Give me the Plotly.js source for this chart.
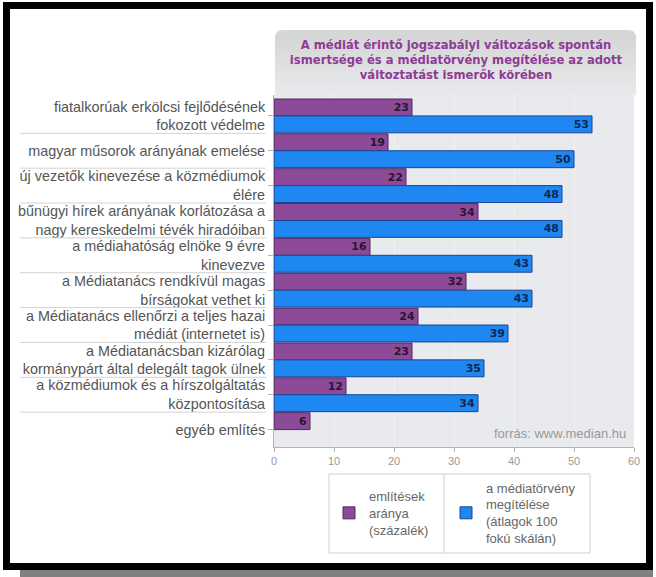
<!DOCTYPE html>
<html>
<head>
<meta charset="utf-8">
<script src="https://cdn.plot.ly/plotly-3.0.1.min.js"></script>
<style>
  html, body { margin: 0; padding: 0; background: #ffffff; }
  #wrap { position: relative; width: 656px; height: 577px; overflow: hidden; }
  #frame { position: absolute; left: 3px; top: 2px; width: 650px; height: 568px; box-sizing: border-box; border: 7px solid #000; background: #fff; }
  #shadow { position: absolute; left: 20px; top: 570px; width: 633px; height: 7px; background: #808080; }
  #chart { position: absolute; left: 0; top: 0; width: 656px; height: 577px; }
</style>
</head>
<body>
<div id="wrap">
  <div id="shadow"></div>
  <div id="frame"></div>
  <div id="chart"></div>
</div>
<script>
// ---- data ----
const categories = [
  'fiatalkorúak erkölcsi fejlődésének<br>fokozott védelme',
  'magyar műsorok arányának emelése',
  'új vezetők kinevezése a közmédiumok<br>élére',
  'bűnügyi hírek arányának korlátozása a<br>nagy kereskedelmi tévék hiradóiban',
  'a médiahatóság elnöke 9 évre<br>kinevezve',
  'a Médiatanács rendkívül magas<br>bírságokat vethet ki',
  'a Médiatanács ellenőrzi a teljes hazai<br>médiát (internetet is)',
  'a Médiatanácsban kizárólag<br>kormánypárt által delegált tagok ülnek',
  'a közmédiumok és a hírszolgáltatás<br>központosítása',
  'egyéb említés'
];
const mentionShare = [23, 19, 22, 34, 16, 32, 24, 23, 12, 6];
const lawRating = [53, 50, 48, 48, 43, 43, 39, 35, 34, null];
const seriesNames = [
  'említések<br>aránya<br>(százalék)',
  'a médiatörvény<br>megítélése<br>(átlagok 100<br>fokú skálán)'
];
const xTicks = [0, 10, 20, 30, 40, 50, 60];
const titleText = 'A médiát érintő jogszabályi változások spontán<br>ismertsége és a médiatörvény megítélése az adott<br>változtatást ismerők körében';
const sourceText = 'forrás: www.median.hu';

// ---- geometry helpers (pixel -> paper) ----
const L = 274, R = 634, T = 95, B = 447;
const px = q => (q - L) / (R - L);
const py = p => (B - p) / (B - T);

const traces = [
  {
    type: 'bar', orientation: 'h', name: seriesNames[0], legend: 'legend',
    y: categories, x: mentionShare,
    marker: { color: '#8d4a98', line: { color: '#55285f', width: 1 } },
    texttemplate: '%{x}', textposition: 'inside', insidetextanchor: 'end',
    textangle: 0, constraintext: 'none',
    textfont: { family: 'DejaVu Sans', size: 11, color: '#2b1630', weight: 'bold' },
    hoverinfo: 'x'
  },
  {
    type: 'bar', orientation: 'h', name: seriesNames[1], legend: 'legend2',
    y: categories, x: lawRating,
    marker: { color: '#1f87f2', line: { color: '#1a4590', width: 1 } },
    texttemplate: '%{x}', textposition: 'inside', insidetextanchor: 'end',
    textangle: 0, constraintext: 'none',
    textfont: { family: 'DejaVu Sans', size: 11, color: '#0d2750', weight: 'bold' },
    hoverinfo: 'x'
  }
];

// title box (rounded top + vertical gradient strips)
const shapes = [];
const bx0 = px(275), bx1 = px(636), by0 = py(95), by1 = py(30);
const rx = 8 / (R - L), ry = 8 / (B - T);
shapes.push({
  type: 'path', xref: 'paper', yref: 'paper', layer: 'below',
  path: `M${bx0},${by0} L${bx0},${by1 - ry} Q${bx0},${by1} ${bx0 + rx},${by1} L${bx1 - rx},${by1} Q${bx1},${by1} ${bx1},${by1 - ry} L${bx1},${by0} Z`,
  fillcolor: '#d6d6d6', line: { width: 0 }
});
const c0 = [214, 214, 214], c1 = [232, 234, 237];
const nStrips = 12;
for (let i = 0; i < nStrips; i++) {
  const top = 38 + i * (95 - 38) / nStrips;
  const bot = 38 + (i + 1) * (95 - 38) / nStrips + 0.6;
  const t = (i + 0.5) / nStrips;
  const c = c0.map((v, k) => Math.round(v + (c1[k] - v) * t));
  shapes.push({
    type: 'rect', xref: 'paper', yref: 'paper', layer: 'below',
    x0: bx0, x1: bx1, y0: py(Math.min(bot, 95)), y1: py(top),
    fillcolor: `rgb(${c.join(',')})`, line: { width: 0 }
  });
}
// separators between category labels
for (let i = 0; i < categories.length - 1; i++) {
  shapes.push({
    type: 'line', xref: 'paper', yref: 'y',
    x0: px(20), x1: px(266), y0: i + 0.5, y1: i + 0.5,
    line: { color: '#d2d2d2', width: 1 }
  });
}
// legend box + divider
shapes.push({
  type: 'rect', xref: 'paper', yref: 'paper',
  x0: px(329), x1: px(590), y0: py(553), y1: py(474),
  fillcolor: '#ffffff', line: { color: '#cfcfcf', width: 1 }
});
shapes.push({
  type: 'line', xref: 'paper', yref: 'paper',
  x0: px(444), x1: px(444), y0: py(474), y1: py(553),
  line: { color: '#cfcfcf', width: 1 }
});

const legendFont = { family: 'Liberation Sans, Arial, sans-serif', size: 13, color: '#666' };

const layout = {
  width: 656, height: 577,
  margin: { l: L, r: 656 - R, t: T, b: 577 - B, pad: 0 },
  paper_bgcolor: 'rgba(0,0,0,0)',
  plot_bgcolor: '#e8eaed',
  barmode: 'group', bargap: 0.03, bargroupgap: 0,
  font: { family: 'Liberation Sans, Arial, sans-serif', color: '#555' },
  title: {
    text: titleText,
    font: { family: 'DejaVu Sans', size: 11.6, color: '#8e3b94', weight: 'bold' },
    x: 456 / 656, xanchor: 'center', xref: 'container',
    y: 1 - 49 / 577, yanchor: 'middle', yref: 'container'
  },
  xaxis: {
    range: [0, 60], tickvals: xTicks, ticktext: xTicks.map(String),
    showgrid: true, gridcolor: '#f0f1f3', gridwidth: 1, zeroline: false,
    showline: true, linecolor: '#b3b3b3', linewidth: 1,
    ticks: 'outside', ticklen: 4, tickcolor: '#b3b3b3',
    tickfont: { family: 'Liberation Sans, Arial, sans-serif', size: 11, color: '#9a9a9a' },
    fixedrange: true
  },
  yaxis: {
    type: 'category', range: [9.5, -0.6],
    showgrid: false, zeroline: false,
    showline: true, linecolor: '#b3b3b3', linewidth: 1,
    ticks: 'outside', ticklen: 5, tickcolor: '#b3b3b3',
    tickfont: { family: 'Liberation Sans, Arial, sans-serif', size: 14.4, color: '#555' },
    fixedrange: true
  },
  showlegend: true,
  legend: {
    orientation: 'v', x: px(329), xanchor: 'left', y: py(513), yanchor: 'middle',
    bgcolor: 'rgba(0,0,0,0)', borderwidth: 0,
    font: legendFont, valign: 'middle'
  },
  legend2: {
    orientation: 'v', x: px(446), xanchor: 'left', y: py(513), yanchor: 'middle',
    bgcolor: 'rgba(0,0,0,0)', borderwidth: 0,
    font: legendFont, valign: 'middle'
  },
  annotations: [{
    text: sourceText, xref: 'paper', yref: 'paper',
    x: px(628), xanchor: 'right', y: py(433), yanchor: 'middle',
    showarrow: false,
    font: { family: 'Liberation Sans, Arial, sans-serif', size: 13, color: '#9a9a9a' }
  }],
  shapes: shapes
};

Plotly.newPlot('chart', traces, layout, { displayModeBar: false, staticPlot: true });
</script>
</body>
</html>
